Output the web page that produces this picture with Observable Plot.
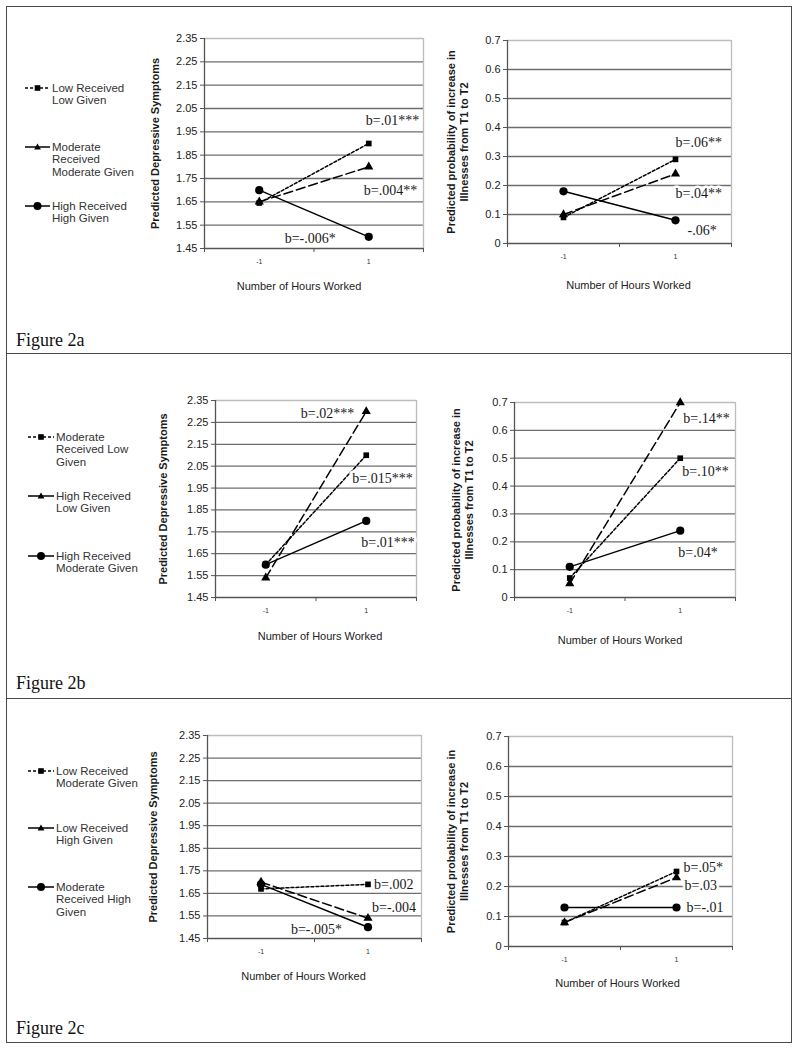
<!DOCTYPE html>
<html><head><meta charset="utf-8">
<script src="https://cdn.jsdelivr.net/npm/d3@7"></script>
<script src="https://cdn.jsdelivr.net/npm/@observablehq/plot@0.6"></script>
<style>
body{margin:0;background:#fff;}
#root{position:relative;width:799px;height:1050px;overflow:hidden;background:#fff;}
.panel{position:absolute;border:1.5px solid #4a4a4a;box-sizing:border-box;}
.fig{position:absolute;font-family:"Liberation Serif",serif;font-size:18px;color:#111;line-height:20px;white-space:nowrap;}
.leg{position:absolute;font-family:"Liberation Sans",Arial,sans-serif;font-size:11.5px;color:#333;line-height:12.8px;white-space:pre;}
.chart{position:absolute;}
</style>
</head><body><div id="root"></div>
<script>
// ---------------- data ----------------
const xLevels = [-1, 1];
const xTickLabels = ["-1", "1"];
const depTicks = [1.45, 1.55, 1.65, 1.75, 1.85, 1.95, 2.05, 2.15, 2.25, 2.35];
const illTicks = [0, 0.1, 0.2, 0.3, 0.4, 0.5, 0.6, 0.7];
const depTitle = "Predicted Depressive Symptoms";
const illTitle = "Predicted probability of increase in\nIllnesses from T1 to T2";
const xTitle = "Number of Hours Worked";
const figLabels = ["Figure 2a", "Figure 2b", "Figure 2c"];

// series order in each panel: [dotted/square, dashed/triangle, solid/circle]
const legendA = ["Low Received\nLow Given", "Moderate\nReceived\nModerate Given", "High Received\nHigh Given"];
const depA = [[1.645, 1.90], [1.65, 1.80], [1.70, 1.50]];
const depLabelsA = ["b=.01***", "b=.004**", "b=-.006*"];
const illA = [[0.09, 0.29], [0.10, 0.24], [0.18, 0.08]];
const illLabelsA = ["b=.06**", "b=.04**", "-.06*"];

const legendB = ["Moderate\nReceived Low\nGiven", "High Received\nLow Given", "High Received\nModerate Given"];
const depB = [[1.60, 2.10], [1.54, 2.30], [1.60, 1.80]];
const depLabelsB = ["b=.015***", "b=.02***", "b=.01***"];
const illB = [[0.07, 0.50], [0.05, 0.70], [0.11, 0.24]];
const illLabelsB = ["b=.10**", "b=.14**", "b=.04*"];

const legendC = ["Low Received\nModerate Given", "Low Received\nHigh Given", "Moderate\nReceived High\nGiven"];
const depC = [[1.67, 1.69], [1.70, 1.54], [1.69, 1.50]];
const depLabelsC = ["b=.002", "b=-.004", "b=-.005*"];
const illC = [[0.08, 0.25], [0.08, 0.23], [0.13, 0.13]];
const illLabelsC = ["b=.05*", "b=.03", "b=-.01"];

// ---------------- layout / style ----------------
const seriesStyle = [
  {dash: "3,2", symbol: "square", r: 3.2},
  {dash: "9,4", symbol: "triangle", r: 3.4},
  {dash: null, symbol: "circle", r: 4.1}
];
const depFmt = d => d.toFixed(2);
const illFmt = d => d === 0 ? "0" : d.toFixed(1);

const panels = [
  {box: [6, 6, 792, 354], fig: [16, 330], legX: [25, 50, 52], legY: [81.6, 140.6, 199.6], legend: legendA,
   dep: {values: depA, labels: depLabelsA, frame: [204, 38, 423, 248], ytdx: -49, xtdx: -15, xtdy: 38,
         off: [[-3, -23, "start"], [-5, 24, "start"], [-33, 2, "end"]]},
   ill: {values: illA, labels: illLabelsA, frame: [507, 40, 731, 243], ytdx: -50, xtdx: 9, xtdy: 42,
         off: [[0, -17, "start"], [0, 20, "start"], [12, 10, "start"]]}},
  {box: [6, 353, 792, 699], fig: [16, 673], legX: [28, 54, 56], legY: [430.6, 489.6, 549.6], legend: legendB,
   dep: {values: depB, labels: depLabelsB, frame: [215, 400, 416, 597], ytdx: -52, xtdx: 4, xtdy: 39,
         off: [[-14, 23, "start"], [-12, 2, "end"], [-5, 22, "start"]]},
   ill: {values: illB, labels: illLabelsB, frame: [514, 402, 735, 597], ytdx: -52, xtdx: -5, xtdy: 43,
         off: [[2, 13, "start"], [3, 16, "start"], [-2, 22, "start"]]}},
  {box: [6, 698, 792, 1043], fig: [16, 1018], legX: [28, 54, 56], legY: [764.6, 821.6, 880.6], legend: legendC,
   dep: {values: depC, labels: depLabelsC, frame: [207, 735, 421, 938], ytdx: -54, xtdx: -11, xtdy: 38,
         off: [[6, 0, "start"], [4, -11, "start"], [-26, 2, "end"]]},
   ill: {values: illC, labels: illLabelsC, frame: [508, 736, 732, 946], ytdx: -51, xtdx: -3, xtdy: 37,
         off: [[7, -4, "start"], [8, 8, "start"], [10, 0, "start"]]}}
];

const root = document.getElementById("root");

function makeChart(cfg, ticks, fmt, title) {
  const [L, T, R, B] = cfg.frame;
  const mL = 85, mT = 15, mR = 20, mB = 60;
  const rows = [];
  cfg.values.forEach((vals, s) => xLevels.forEach((x, j) => rows.push({s, x, y: vals[j]})));
  const ends = rows.filter(d => d.x === 1);
  const interior = ticks.slice(1, -1);
  const marks = [
    Plot.ruleY(interior, {stroke: "#6e6e6e", strokeWidth: 1.3}),
    Plot.ruleY([ticks[ticks.length - 1]], {stroke: "#bdbdbd", strokeWidth: 1.3}),
    Plot.ruleX([2], {stroke: "#bdbdbd", strokeWidth: 1.3}),
    Plot.ruleX([-2], {stroke: "#555", strokeWidth: 1.3}),
    Plot.ruleY([ticks[0]], {stroke: "#555", strokeWidth: 1.3}),
    Plot.axisY({ticks, tickFormat: fmt, tickSize: 4, tickPadding: 3, fontSize: 11, fill: "#222", stroke: "#555", label: null}),
    Plot.axisX({ticks: [-2, 0, 2], tickFormat: () => "", tickSize: 4, stroke: "#555", label: null}),
    Plot.axisX({ticks: xLevels, tickFormat: (d) => xTickLabels[xLevels.indexOf(d)], tickSize: 0, tickPadding: 11, fontSize: 7, fill: "#333", label: null}),
    Plot.text([title], {frameAnchor: "left", rotate: -90, dx: cfg.ytdx, textAnchor: "middle", lineAnchor: "middle",
      fontWeight: "bold", fontSize: 11, lineHeight: 1.12, fill: "#1a1a1a"}),
    Plot.text([xTitle], {frameAnchor: "bottom", dy: cfg.xtdy, dx: cfg.xtdx, textAnchor: "middle", lineAnchor: "middle",
      fontSize: 11, fill: "#222"})
  ];
  seriesStyle.forEach((st, s) => {
    const d = rows.filter(r => r.s === s);
    marks.push(Plot.line(d, {x: "x", y: "y", stroke: "black", strokeWidth: 1.5, strokeDasharray: st.dash || undefined}));
  });
  seriesStyle.forEach((st, s) => {
    const d = rows.filter(r => r.s === s);
    marks.push(Plot.dot(d, {x: "x", y: "y", symbol: st.symbol, r: st.r, fill: "black", stroke: "none"}));
  });
  ends.forEach(e => {
    const [dx, dy, anchor] = cfg.off[e.s];
    marks.push(Plot.text([e], {x: "x", y: "y", text: () => cfg.labels[e.s], dx, dy, textAnchor: anchor,
      fontFamily: "Liberation Serif", fontSize: 14, fill: "#1a1a1a", stroke: "white", strokeWidth: 5}));
  });
  const svg = Plot.plot({
    width: R - L + mL + mR, height: B - T + mT + mB,
    marginLeft: mL, marginRight: mR, marginTop: mT, marginBottom: mB,
    x: {domain: [-2, 2]},
    y: {domain: [ticks[0], ticks[ticks.length - 1]]},
    style: {fontFamily: "Liberation Sans, Arial, sans-serif", background: "transparent", overflow: "visible"},
    marks
  });
  const wrap = document.createElement("div");
  wrap.className = "chart";
  wrap.style.left = (L - mL) + "px";
  wrap.style.top = (T - mT) + "px";
  wrap.appendChild(svg);
  root.appendChild(wrap);
}

function swatch(st, x0, x1, yc) {
  const ns = "http://www.w3.org/2000/svg";
  const svg = document.createElementNS(ns, "svg");
  const w = x1 - x0;
  svg.setAttribute("width", w); svg.setAttribute("height", 12);
  svg.style.position = "absolute"; svg.style.left = x0 + "px"; svg.style.top = (yc - 6) + "px";
  const line = document.createElementNS(ns, "line");
  line.setAttribute("x1", 0); line.setAttribute("x2", w); line.setAttribute("y1", 6); line.setAttribute("y2", 6);
  line.setAttribute("stroke", "black"); line.setAttribute("stroke-width", 1.5);
  if (st.symbol === "square") line.setAttribute("stroke-dasharray", "3,2");
  svg.appendChild(line);
  const c = w / 2;
  let m;
  if (st.symbol === "square") {
    m = document.createElementNS(ns, "rect");
    m.setAttribute("x", c - 2.8); m.setAttribute("y", 3.2); m.setAttribute("width", 5.6); m.setAttribute("height", 5.6);
  } else if (st.symbol === "triangle") {
    m = document.createElementNS(ns, "path");
    m.setAttribute("d", `M${c},2.4L${c + 3.4},8.4L${c - 3.4},8.4Z`);
  } else {
    m = document.createElementNS(ns, "circle");
    m.setAttribute("cx", c); m.setAttribute("cy", 6); m.setAttribute("r", 4);
  }
  m.setAttribute("fill", "black");
  svg.appendChild(m);
  root.appendChild(svg);
}

panels.forEach((p, i) => {
  const box = document.createElement("div");
  box.className = "panel";
  box.style.left = p.box[0] + "px"; box.style.top = p.box[1] + "px";
  box.style.width = (p.box[2] - p.box[0]) + "px"; box.style.height = (p.box[3] - p.box[1]) + "px";
  root.appendChild(box);

  const fig = document.createElement("div");
  fig.className = "fig"; fig.textContent = figLabels[i];
  fig.style.left = p.fig[0] + "px"; fig.style.top = p.fig[1] + "px";
  root.appendChild(fig);

  p.legend.forEach((txt, s) => {
    const t = document.createElement("div");
    t.className = "leg"; t.textContent = txt;
    t.style.left = p.legX[2] + "px"; t.style.top = p.legY[s] + "px";
    root.appendChild(t);
    swatch(seriesStyle[s], p.legX[0], p.legX[1], p.legY[s] + 6.4);
  });

  makeChart(p.dep, depTicks, depFmt, depTitle);
  makeChart(p.ill, illTicks, illFmt, illTitle);
});
</script>
</body></html>
